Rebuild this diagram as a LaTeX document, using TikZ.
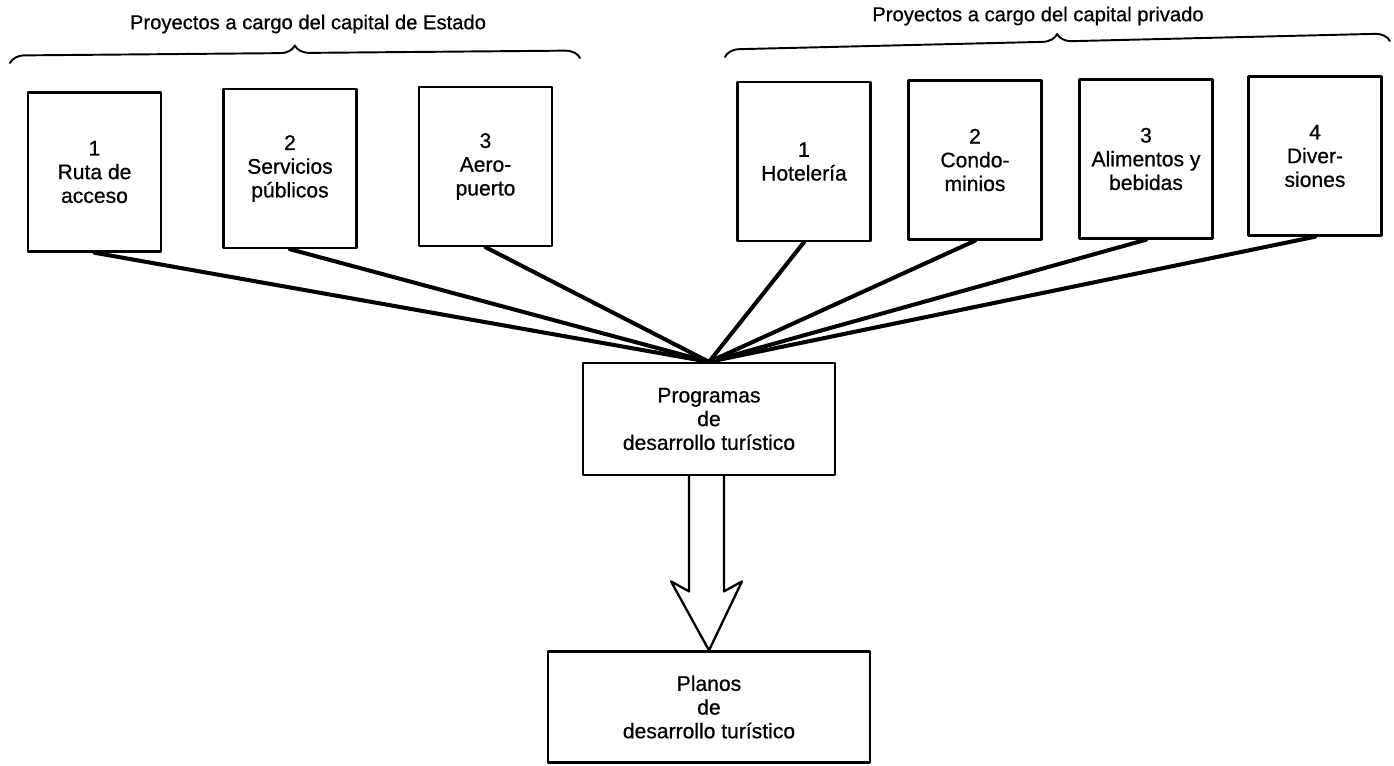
\documentclass[tikz,border=0pt]{standalone}
\usepackage{fontspec}
\setmainfont{Liberation Sans}[FakeBold=0.7]
\usetikzlibrary{calc,decorations.pathreplacing}

\tikzset{
  projbox/.style={draw,line width=1.4pt,minimum width=2.66cm,minimum height=3.18cm,
    inner sep=1pt,align=center,font=\fontsize{12}{13.5}\selectfont},
  progbox/.style={draw,line width=1.3pt,inner sep=1pt,align=center,
    font=\fontsize{12}{13.5}\selectfont},
  spoke/.style={line width=2.3pt},
  grpbrace/.style={line width=1.1pt,decorate,decoration={brace,amplitude=0.3cm}},
  grptitle/.style={font=\fontsize{11.5}{13}\selectfont}
}

\begin{document}
\begin{tikzpicture}[x=0.02cm,y=-0.02cm,line cap=round,line join=round]
  \useasboundingbox (0,0) rectangle (1394,765);
  \node[grptitle] (titleL) at (308,24) {Proyectos a cargo del capital de Estado};
  \node[grptitle] (titleR) at (1038,16) {Proyectos a cargo del capital privado};
  \draw[grpbrace] (10,63) -- (580,58);
  \draw[grpbrace] (725,57) -- (1390,41);
  \node[projbox] (ruta) at (94.5,172) {1\\Ruta de\\acceso};
  \node[projbox] (serv) at (290,168.5) {2\\Servicios\\públicos};
  \node[projbox] (aero) at (485.5,166.5) {3\\Aero-\\puerto};
  \node[projbox] (hotel) at (804,161.5) {1\\Hotelería};
  \node[projbox] (condo) at (975,160) {2\\Condo-\\minios};
  \node[projbox] (alim) at (1146,159) {3\\Alimentos y\\bebidas};
  \node[projbox] (div) at (1315,156) {4\\Diver-\\siones};
  \node[progbox,minimum width=5.04cm,minimum height=2.24cm] (prog) at (709,419)
    {Programas\\de\\desarrollo turístico};
  \node[progbox,minimum width=6.44cm,minimum height=2.22cm] (planos) at (709,707)
    {Planos\\de\\desarrollo turístico};
  \foreach \b in {ruta,serv,aero,hotel,condo,alim,div}
    \draw[spoke] (\b.south) -- (prog.north);
  \draw[line width=1.3pt] ($(prog.south)+(-20,0)$) -- ($(planos.north)+(-20,-59)$)
    -- ($(planos.north)+(-38,-69)$) -- (planos.north) -- ($(planos.north)+(33,-69)$)
    -- ($(planos.north)+(15,-59)$) -- ($(prog.south)+(15,0)$);
\end{tikzpicture}
\end{document}
